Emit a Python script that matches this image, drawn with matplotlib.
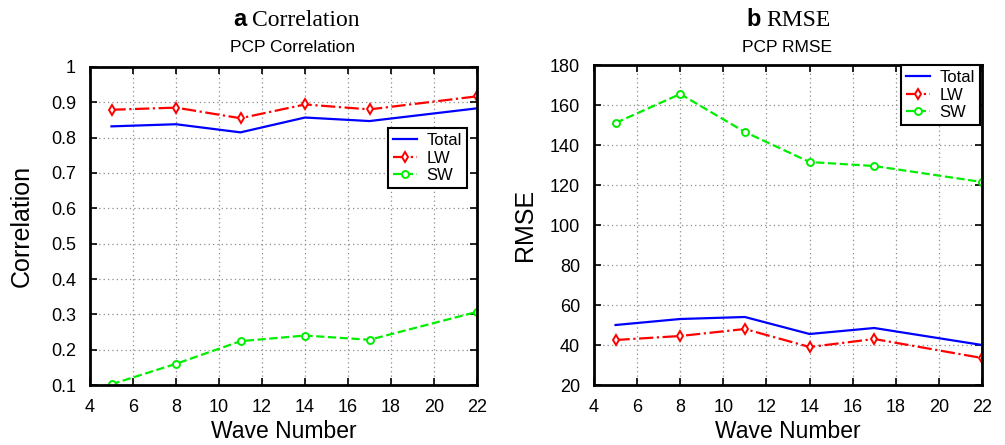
import numpy as np
import matplotlib
matplotlib.use("Agg")
import matplotlib.pyplot as plt
from matplotlib.ticker import FuncFormatter, MultipleLocator

plt.rcParams["font.family"] = ["Liberation Sans", "DejaVu Sans"]

# wave numbers used in the experiments
wave = [5, 8, 11, 14, 17, 22]

# PCP correlation
corr_total = [0.832, 0.838, 0.815, 0.857, 0.847, 0.883]
corr_lw = [0.879, 0.885, 0.855, 0.894, 0.880, 0.917]
corr_sw = [0.102, 0.160, 0.224, 0.240, 0.228, 0.307]

# PCP RMSE
rmse_total = [50.0, 53.0, 54.0, 45.5, 48.5, 40.0]
rmse_lw = [42.5, 44.5, 48.0, 39.0, 43.0, 33.5]
rmse_sw = [151.0, 165.5, 146.5, 131.5, 129.5, 121.5]

W, H = 1005, 445
fig = plt.figure(figsize=(W / 100, H / 100), dpi=100)


def px_axes(x0, y0, x1, y1):
    # axes rectangle given in pixel coordinates (origin top-left)
    return fig.add_axes([x0 / W, 1 - y1 / H, (x1 - x0) / W, (y1 - y0) / H])


def style(ax):
    ax.set_xlim(4, 22)
    ax.xaxis.set_major_locator(MultipleLocator(2))
    ax.tick_params(direction="in", top=True, right=True, length=5, width=1.2,
                   labelsize=13, pad=10)
    for sp in ax.spines.values():
        sp.set_linewidth(2)
    ax.grid(True, ls=(0, (1, 2.5)), color="0.55", lw=0.9)
    ax.set_xlabel("Wave Number", fontsize=16.5, labelpad=3)


def draw(ax, total, lw, sw):
    ax.plot(wave, total, "-", color="blue", lw=1.6, label="Total")
    ax.plot(wave, lw, "-.", color="red", lw=1.6, marker="d", ms=5,
            mfc="white", mec="red", mew=1.4, label="LW")
    ax.plot(wave, sw, "--", color="#00ee00", lw=1.6, marker="o", ms=5,
            mfc="white", mec="#00ee00", mew=1.4, label="SW")


def legend(ax, anchor):
    leg = ax.legend(loc="upper right", bbox_to_anchor=anchor, fontsize=12,
                    fancybox=False, framealpha=1, edgecolor="black",
                    handlelength=1.4, handletextpad=0.6, borderpad=0.3,
                    labelspacing=0.15, borderaxespad=0)
    leg.get_frame().set_linewidth(1.5)


def title(xl, xr, bold, text, sub, subx):
    fig.text(xl / W, 1 - 20 / H, bold, fontsize=17, fontweight="bold",
             ha="right", va="center")
    fig.text(xr / W, 1 - 20 / H, text, fontsize=17, ha="left", va="center",
             family="Liberation Serif")
    fig.text(subx / W, 1 - 48 / H, sub, fontsize=12.5, ha="center",
             va="center")


fmt = FuncFormatter(lambda v, _: f"{v:g}")

# panel a: correlation
ax1 = px_axes(90, 67, 477, 385)
draw(ax1, corr_total, corr_lw, corr_sw)
style(ax1)
ax1.set_ylim(0.1, 1)
ax1.yaxis.set_major_locator(MultipleLocator(0.1))
ax1.yaxis.set_major_formatter(fmt)
ax1.set_ylabel("Correlation", fontsize=18)
ax1.yaxis.set_label_coords(-0.145, 0.5)
legend(ax1, (0.974, 0.808))
title(246, 252, "a", "Correlation", "PCP Correlation", 293)

# panel b: RMSE
ax2 = px_axes(594, 65, 982, 385)
draw(ax2, rmse_total, rmse_lw, rmse_sw)
style(ax2)
ax2.set_ylim(20, 180)
ax2.yaxis.set_major_locator(MultipleLocator(20))
ax2.yaxis.set_major_formatter(fmt)
ax2.set_ylabel("RMSE", fontsize=18)
ax2.yaxis.set_label_coords(-0.147, 0.5)
legend(ax2, (0.995, 1.0))
title(761, 766, "b", "RMSE", "PCP RMSE", 787)

fig.savefig("out.png", dpi=100)
